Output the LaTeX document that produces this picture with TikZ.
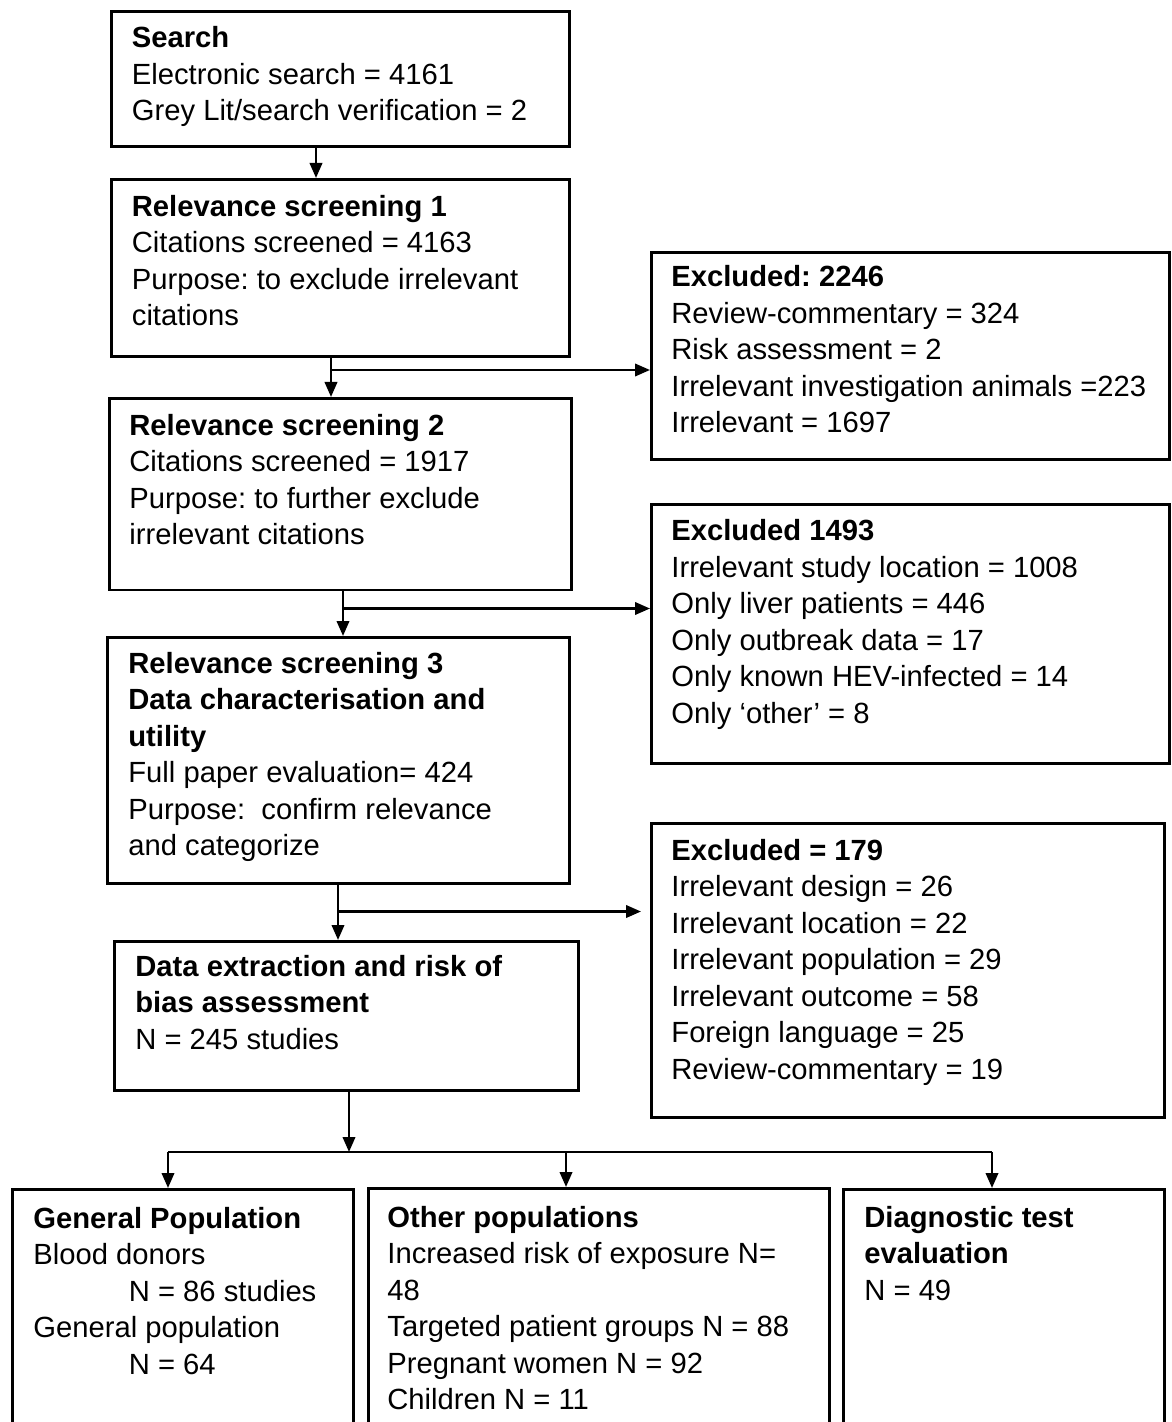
\documentclass[tikz,border=0pt]{standalone}
\usepackage{fontspec}
\setmainfont{Liberation Sans}
\usetikzlibrary{arrows.meta}
\frenchspacing
\begin{document}
\begin{tikzpicture}[x=0.5pt,y=-0.5pt,
  box/.style={draw, line width=1.4pt, inner sep=0pt, anchor=north west, rectangle},
  txt/.style={inner sep=0pt, anchor=base west, align=left, font=\fontsize{14.6pt}{18.25pt}\selectfont\frenchspacing},
  arr/.style={line width=1.25pt, -{Triangle[length=7.5pt,width=6.2pt]}},
  ln/.style={line width=1.25pt}]
\useasboundingbox (0,0) rectangle (1171,1422);
\clip (0,0) rectangle (1171,1422);

% boxes
\node[box, minimum width=229pt, minimum height=67.5pt] (search) at (110,10) {};
\node[box, minimum width=229pt, minimum height=88.5pt] (rs1) at (110,178) {};
\node[box, minimum width=259pt, minimum height=103.5pt] (excl1) at (650,251) {};
\node[box, minimum width=231pt, minimum height=95.75pt] (rs2) at (108,397) {};
\node[box, minimum width=259pt, minimum height=129.5pt] (excl2) at (650,503) {};
\node[box, minimum width=231pt, minimum height=123pt] (rs3) at (106,636) {};
\node[box, minimum width=256.5pt, minimum height=147pt] (excl3) at (650,822) {};
\node[box, minimum width=232pt, minimum height=74.5pt] (data) at (113,940) {};
\node[box, minimum width=170.5pt, minimum height=130pt] (gen) at (11,1188) {};
\node[box, minimum width=230.5pt, minimum height=130.5pt] (other) at (367,1187) {};
\node[box, minimum width=160.5pt, minimum height=130pt] (diag) at (842,1188) {};

% texts (anchored at the baseline of their last line)
\node[txt] (searchT) at (131.5,120.7) {\textbf{Search}\\Electronic search = 4161\\Grey Lit/search verification = 2};
\node[txt] (rs1T) at (131.5,326) {\textbf{Relevance screening 1}\\Citations screened = 4163\\Purpose: to exclude irrelevant\\citations};
\node[txt] (excl1T) at (671,432.7) {\textbf{Excluded: 2246}\\Review-commentary = 324\\Risk assessment = 2\\Irrelevant investigation animals =223\\Irrelevant = 1697};
\node[txt] (rs2T) at (129,544.5) {\textbf{Relevance screening 2}\\Citations screened = 1917\\Purpose: to further exclude\\irrelevant citations};
\node[txt] (excl2T) at (671,723.2) {\textbf{Excluded 1493}\\Irrelevant study location = 1008\\Only liver patients = 446\\Only outbreak data = 17\\Only known HEV-infected = 14\\Only ‘other’ = 8};
\node[txt] (rs3T) at (128,855.5) {\textbf{Relevance screening 3}\\\textbf{Data characterisation and}\\\textbf{utility}\\Full paper evaluation= 424\\Purpose:~ confirm relevance\\and categorize};
\node[txt] (excl3T) at (671,1079) {\textbf{Excluded = 179}\\Irrelevant design = 26\\Irrelevant location = 22\\Irrelevant population = 29\\Irrelevant outcome = 58\\Foreign language = 25\\Review-commentary = 19};
\node[txt] (dataT) at (135,1049) {\textbf{Data extraction and risk of}\\\textbf{bias assessment}\\N = 245 studies};
\node[txt] (genT) at (33,1374) {\textbf{General Population}\\Blood donors\\\hspace*{47.75pt}N = 86 studies\\General population\\\hspace*{47.75pt}N = 64};
\node[txt] (otherT) at (387,1409.5) {\textbf{Other populations}\\Increased risk of exposure N=\\48\\Targeted patient groups N = 88\\Pregnant women N = 92\\Children N = 11};
\node[txt] (diagT) at (864,1300) {\textbf{Diagnostic test}\\\textbf{evaluation}\\N = 49};

% connectors
\coordinate (a0) at (316,145);
\draw[arr] (a0 |- search.south) -- (a0 |- rs1.north);
\coordinate (b1) at (331,370);
\draw[arr] (b1 |- rs1.south) -- (b1 |- rs2.north);
\draw[arr] (b1) -- (b1 -| excl1.west);
\coordinate (b2) at (343,608.5);
\draw[arr] (b2 |- rs2.south) -- (b2 |- rs3.north);
\draw[arr] (b2) -- (b2 -| excl2.west);
\coordinate (b3) at (338,911.5);
\draw[arr] (b3 |- rs3.south) -- (b3 |- data.north);
\draw[arr] (b3) -- ([xshift=-4.5pt]b3 -| excl3.west);
\coordinate (split) at (349,1152);
\draw[arr] (split |- data.south) -- (split);
\coordinate (hl) at (168,1152);
\coordinate (hm) at (566,1152);
\coordinate (hr) at (992,1152);
\draw[ln] (hl) -- (hr);
\draw[arr] (hl) -- (hl |- gen.north);
\draw[arr] (hm) -- (hm |- other.north);
\draw[arr] (hr) -- (hr |- diag.north);
\end{tikzpicture}
\end{document}
